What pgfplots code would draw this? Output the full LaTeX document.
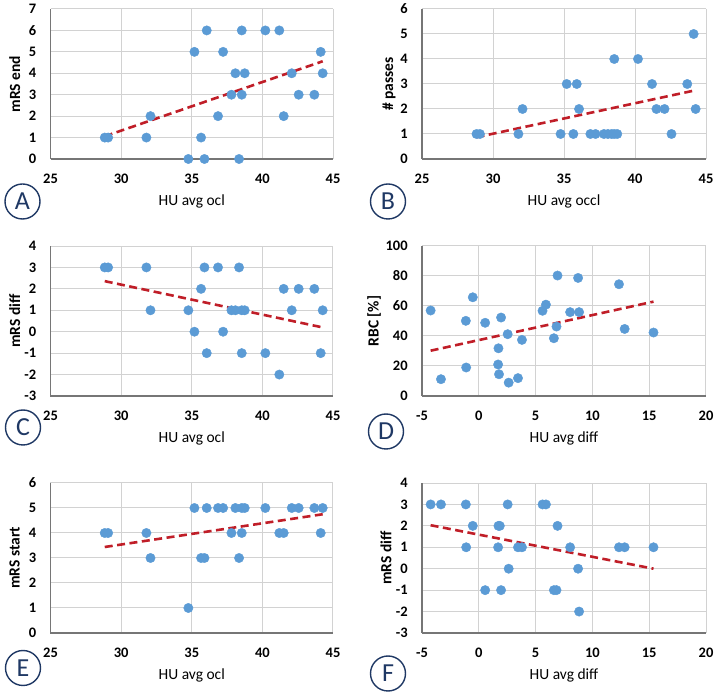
\documentclass[border=0pt]{standalone}
\usepackage{pgfplots}
\pgfplotsset{compat=1.18}
\usepackage{fontspec}
\setmainfont{Carlito}
\definecolor{dotblue}{RGB}{91,155,213}
\definecolor{trendred}{RGB}{192,30,40}
\definecolor{gridgray}{RGB}{210,210,210}
\definecolor{axgray}{RGB}{118,118,118}
\definecolor{navy}{RGB}{31,56,100}
\pgfplotsset{
 panel/.style={
  scale only axis, height=150pt,
  axis lines=left, axis line style={-,draw=axgray,line width=1.2pt},
  grid=major, major grid style={draw=gridgray,line width=1pt},
  tick style={draw=none},
  enlargelimits=false, clip=false,
  /pgf/number format/assume math mode=true,
  ticklabel style={font=\fontsize{14.5}{17}\selectfont\bfseries},
  xticklabel style={anchor=center,inner sep=0pt,yshift=-18pt},
  yticklabel style={anchor=east,inner sep=0pt,xshift=-12pt},
  xlabel style={font=\fontsize{15.5}{18}\selectfont,at={(axis description cs:0.5,0)},anchor=center,yshift=-42pt},
  ylabel style={font=\fontsize{15.5}{18}\selectfont\bfseries,anchor=center},
 },
 dots/.style={only marks, mark=*, mark size=4.7pt, mark options={draw=dotblue,fill=dotblue}},
 trend/.style={no marks, draw=trendred, line width=2.6pt, dash pattern=on 8pt off 4.5pt},
}
\tikzset{letter/.style={circle, draw=navy, line width=1.4pt, minimum size=35pt, inner sep=0pt, text=navy, font=\fontsize{26}{26}\selectfont}}
\begin{document}
\begin{tikzpicture}[x=1pt,y=1pt]
\useasboundingbox (0,0) rectangle (716,694);
% A
\begin{axis}[panel, at={(50.5pt,535pt)}, anchor=south west, width=282.5pt,
  xmin=25,xmax=45,ymin=0,ymax=7,xtick={25,30,...,45},ytick={0,1,...,7},
  xlabel={HU avg ocl}, ylabel={mRS end}, ylabel style={at={(axis description cs:-0.127,0.5)}}]
\addplot[dots] coordinates {(28.84,1)(29.08,1)(31.79,1)(32.08,2)(34.76,0)(35.19,5)(35.66,1)(35.90,0)(36.06,6)(36.86,2)(37.22,5)(37.81,3)(38.09,4)(38.35,0)(38.54,6)(38.54,3)(38.75,4)(40.21,6)(41.20,6)(41.51,2)(42.08,4)(42.57,3)(43.68,3)(44.13,5)(44.27,4)};
\addplot[trend] coordinates {(28.84,1.06)(44.27,4.56)};
\end{axis}
% B
\begin{axis}[panel, at={(422pt,535pt)}, anchor=south west, width=284pt,
  xmin=25,xmax=45,ymin=0,ymax=6,xtick={25,30,...,45},ytick={0,1,...,6},
  xlabel={HU avg occl}, ylabel={\# passes}, ylabel style={at={(axis description cs:-0.116,0.5)}}]
\addplot[dots] coordinates {(28.84,1)(29.08,1)(31.79,1)(32.08,2)(34.76,1)(35.19,3)(35.66,1)(35.90,3)(36.06,2)(36.86,1)(37.22,1)(37.81,1)(38.09,1)(38.35,1)(38.54,4)(38.54,1)(38.75,1)(40.21,4)(41.20,3)(41.51,2)(42.08,2)(42.57,1)(43.68,3)(44.13,5)(44.27,2)};
\addplot[trend] coordinates {(28.84,0.87)(44.27,2.75)};
\end{axis}
% C
\begin{axis}[panel, at={(50.5pt,298pt)}, anchor=south west, width=282.5pt,
  xmin=25,xmax=45,ymin=-3,ymax=4,xtick={25,30,...,45},ytick={-3,-2,...,4},
  xlabel={HU avg ocl}, ylabel={mRS diff}, ylabel style={at={(axis description cs:-0.127,0.5)}}]
\addplot[dots] coordinates {(28.84,3)(29.08,3)(31.79,3)(32.08,1)(34.76,1)(35.19,0)(35.66,2)(35.90,3)(36.06,-1)(36.86,3)(37.22,0)(37.81,1)(38.09,1)(38.35,3)(38.54,-1)(38.54,1)(38.75,1)(40.21,-1)(41.20,-2)(41.51,2)(42.08,1)(42.57,2)(43.68,2)(44.13,-1)(44.27,1)};
\addplot[trend] coordinates {(28.84,2.36)(44.27,0.20)};
\end{axis}
% D
\begin{axis}[panel, at={(422pt,298pt)}, anchor=south west, width=284pt,
  xmin=-5,xmax=20,ymin=0,ymax=100,xtick={-5,0,...,20},ytick={0,20,...,100},
  xlabel={HU avg diff}, ylabel={RBC [\%]}, ylabel style={at={(axis description cs:-0.169,0.5)}}]
\addplot[dots] coordinates {(-4.24,57.0)(-3.33,11.2)(-1.14,50.1)(-1.11,19.0)(-0.53,65.8)(0.56,48.8)(1.73,31.8)(1.70,21.0)(1.78,14.5)(1.96,52.3)(2.54,41.2)(2.63,8.9)(3.45,11.9)(3.80,37.4)(5.61,56.8)(5.91,60.9)(6.61,38.5)(6.84,46.3)(6.93,80.3)(8.04,55.9)(8.74,78.7)(8.83,55.9)(12.34,74.5)(12.84,44.7)(15.38,42.3)};
\addplot[trend] coordinates {(-4.24,30.2)(15.38,62.9)};
\end{axis}
% E
\begin{axis}[panel, at={(50.5pt,61pt)}, anchor=south west, width=282.5pt,
  xmin=25,xmax=45,ymin=0,ymax=6,xtick={25,30,...,45},ytick={0,1,...,6},
  xlabel={HU avg ocl}, ylabel={mRS start}, ylabel style={at={(axis description cs:-0.127,0.5)}}]
\addplot[dots] coordinates {(28.84,4)(29.08,4)(31.79,4)(32.08,3)(34.76,1)(35.19,5)(35.66,3)(35.90,3)(36.06,5)(36.86,5)(37.22,5)(37.81,4)(38.09,5)(38.35,3)(38.54,5)(38.54,4)(38.75,5)(40.21,5)(41.20,4)(41.51,4)(42.08,5)(42.57,5)(43.68,5)(44.13,4)(44.27,5)};
\addplot[trend] coordinates {(28.84,3.44)(44.27,4.75)};
\end{axis}
% F
\begin{axis}[panel, at={(422pt,61pt)}, anchor=south west, width=284pt,
  xmin=-5,xmax=20,ymin=-3,ymax=4,xtick={-5,0,...,20},ytick={-3,-2,...,4},
  xlabel={HU avg diff}, ylabel={mRS diff}, ylabel style={at={(axis description cs:-0.127,0.5)}}]
\addplot[dots] coordinates {(-4.24,3)(-3.33,3)(-1.14,3)(-1.11,1)(-0.53,2)(0.56,-1)(1.70,1)(1.73,2)(1.85,2)(1.96,-1)(2.54,3)(2.63,0)(3.45,1)(3.80,1)(5.61,3)(5.91,3)(6.61,-1)(6.84,-1)(6.93,2)(8.04,1)(8.74,0)(8.83,-2)(12.34,1)(12.84,1)(15.38,1)};
\addplot[trend] coordinates {(-4.24,2.03)(15.38,0.0)};
\end{axis}
\node[letter] at (22.5,492.5) {A};
\node[letter] at (388,492.5) {B};
\node[letter] at (23,266.5) {C};
\node[letter] at (386,262.5) {D};
\node[letter] at (23,26) {E};
\node[letter] at (388,20.5) {F};
\end{tikzpicture}
\end{document}
